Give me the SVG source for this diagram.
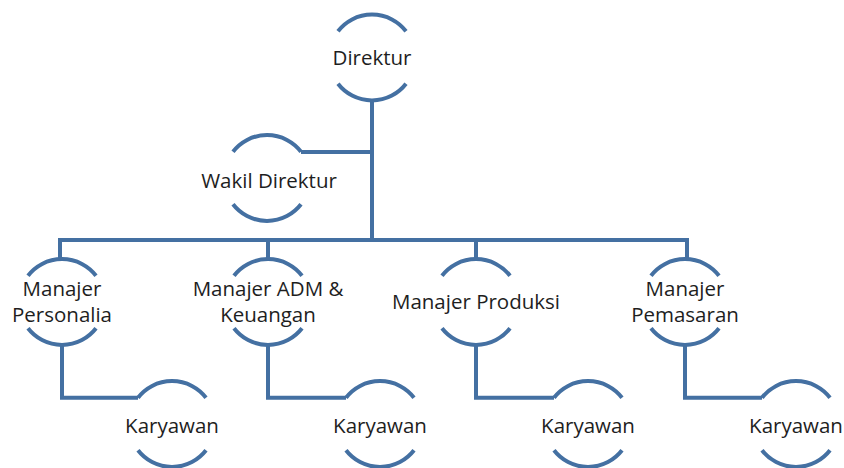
<svg xmlns="http://www.w3.org/2000/svg" width="844" height="468" viewBox="0 0 844 468">
<style>
.arc{fill:none;stroke:#4470A2;stroke-width:4}
.ln{fill:none;stroke:#4470A2;stroke-width:4}
text{font-family:"Open Sans","Noto Sans",sans-serif;font-size:20.5px;fill:#1e1e1e;text-anchor:middle}
</style>
<defs>
<g id="node">
<path class="arc" d="M-34,-26.3 A43,43 0 0 1 34,-26.3"/>
<path class="arc" d="M-34,26.3 A43,43 0 0 0 34,26.3"/>
</g>
</defs>
<rect width="844" height="468" fill="#fff"/>
<g id="connectors">
<path class="ln" d="M372,100 V240"/>
<path class="ln" d="M372,152 H301"/>
<path class="ln" d="M60,259 V240 H687 V259"/>
<path class="ln" d="M268,240 V259"/>
<path class="ln" d="M476,240 V259"/>
<path class="ln" d="M62,345 V397.7 H138"/>
<path class="ln" d="M268,345 V397.7 H346"/>
<path class="ln" d="M476,345 V397.7 H554"/>
<path class="ln" d="M685,345 V397.7 H762"/>
</g>
<g id="direktur"><use href="#node" x="372" y="57.5"/><text x="372" y="65">Direktur</text></g>
<g id="wakil"><use href="#node" x="267" y="178"/><text x="269" y="188">Wakil Direktur</text></g>
<g id="mpersonalia"><use href="#node" x="62" y="302"/><text x="62" y="296">Manajer</text><text x="62" y="322">Personalia</text></g>
<g id="madm"><use href="#node" x="268" y="302"/><text x="268" y="296">Manajer ADM &amp;</text><text x="268" y="322">Keuangan</text></g>
<g id="mproduksi"><use href="#node" x="476" y="302"/><text x="476" y="309">Manajer Produksi</text></g>
<g id="mpemasaran"><use href="#node" x="685" y="302"/><text x="685" y="296">Manajer</text><text x="685" y="322">Pemasaran</text></g>
<g id="k1"><use href="#node" x="172" y="424"/><text x="172" y="433">Karyawan</text></g>
<g id="k2"><use href="#node" x="380" y="424"/><text x="380" y="433">Karyawan</text></g>
<g id="k3"><use href="#node" x="588" y="424"/><text x="588" y="433">Karyawan</text></g>
<g id="k4"><use href="#node" x="796" y="424"/><text x="796" y="433">Karyawan</text></g>
</svg>
